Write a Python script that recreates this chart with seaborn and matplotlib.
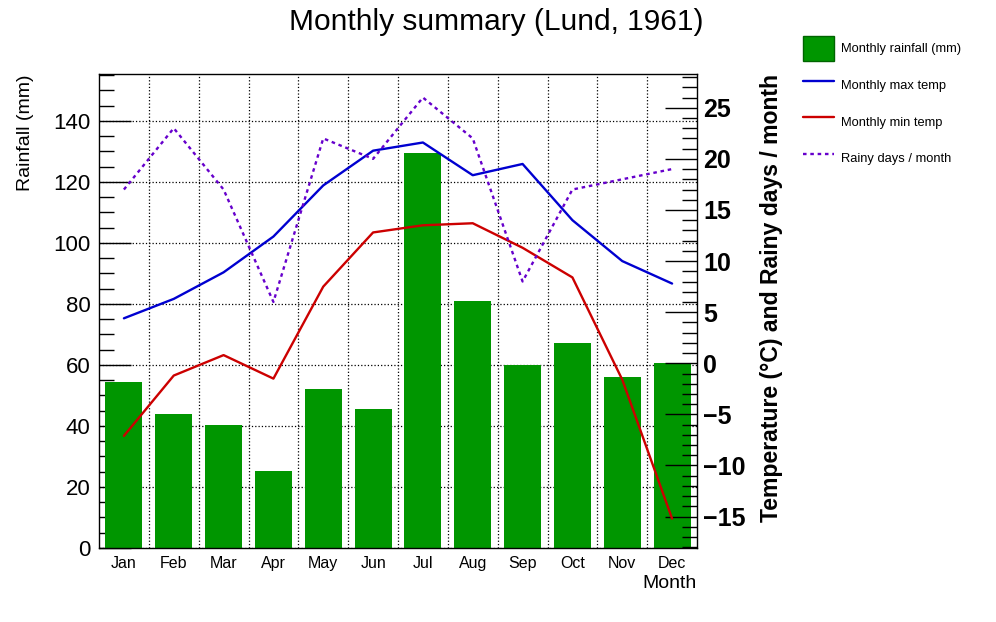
import numpy as np
import pandas as pd
import matplotlib
matplotlib.use('Agg')
import matplotlib.pyplot as plt
import seaborn as sns
from matplotlib.patches import Patch
from matplotlib.lines import Line2D
from matplotlib.ticker import MultipleLocator, FixedLocator

# Lund 1961 monthly data
months = ['Jan', 'Feb', 'Mar', 'Apr', 'May', 'Jun',
          'Jul', 'Aug', 'Sep', 'Oct', 'Nov', 'Dec']
rainfall = [54.4, 43.9, 40.3, 25.2, 52.1, 45.6, 129.4, 81.0, 60.0, 67.2, 56.1, 60.7]
max_temp = [4.4, 6.3, 8.9, 12.4, 17.4, 20.8, 21.6, 18.4, 19.5, 14.0, 10.0, 7.8]
min_temp = [-7.1, -1.2, 0.8, -1.5, 7.5, 12.8, 13.5, 13.7, 11.3, 8.4, -1.6, -15.2]
rainy_days = [17, 23, 17, 6, 22, 20, 26, 22, 8, 17, 18, 19]

GREEN = '#009600'
BLUE = '#0000d0'
RED = '#cc0000'
VIOLET = '#6600cc'

sns.set_style('white')
plt.rcParams['font.family'] = ['Liberation Sans', 'DejaVu Sans']
plt.rcParams['text.color'] = 'black'
plt.rcParams['axes.labelcolor'] = 'black'
plt.rcParams['xtick.color'] = 'black'
plt.rcParams['ytick.color'] = 'black'

df = pd.DataFrame({'month': months, 'rainfall': rainfall, 'max_temp': max_temp,
                   'min_temp': min_temp, 'rainy_days': rainy_days})
df['pos'] = np.arange(len(df))

fig = plt.figure(figsize=(9.96, 6.22), dpi=100)
ax = fig.add_axes([0.0994, 0.119, 0.6004, 0.762])

# rainfall bars on the left axis
sns.barplot(data=df, x='pos', y='rainfall', color=GREEN, saturation=1,
            width=0.74, linewidth=0, ax=ax, zorder=2)
ax.set_xlim(-0.5, 11.5)
ax.set_ylim(0, 155.4)

ax.xaxis.set_major_locator(FixedLocator(df['pos']))
ax.set_xticklabels(months, fontsize=11.5)
ax.xaxis.set_minor_locator(FixedLocator(df['pos'][:-1] + 0.5))
ax.tick_params(axis='x', which='major', length=0, pad=6)
ax.tick_params(axis='x', which='minor', direction='in', length=10, width=1)

ax.yaxis.set_major_locator(MultipleLocator(20))
ax.yaxis.set_minor_locator(MultipleLocator(5))
ax.tick_params(axis='y', which='major', direction='in', length=23, width=1,
               labelsize=16, pad=6, left=True, right=False)
ax.tick_params(axis='y', which='minor', direction='in', length=11, width=1,
               left=True, right=False)

ax.grid(False)
ax.grid(True, axis='y', which='major', linestyle=':', color='black', linewidth=0.9)
ax.grid(True, axis='x', which='minor', linestyle=':', color='black', linewidth=0.9)
ax.set_axisbelow(True)

ax.set_ylabel('Rainfall (mm)', fontsize=14, loc='top', labelpad=14)
ax.set_xlabel('Month', fontsize=14, loc='right', labelpad=2.5)

for s in ax.spines.values():
    s.set_color('black')
    s.set_linewidth(1)

# temperatures and rainy days on the right axis
ax2 = ax.twinx()
sns.lineplot(data=df, x='pos', y='max_temp', color=BLUE, linewidth=1.7, ax=ax2, sort=False)
sns.lineplot(data=df, x='pos', y='min_temp', color=RED, linewidth=1.7, ax=ax2, sort=False)
sns.lineplot(data=df, x='pos', y='rainy_days', color=VIOLET, linewidth=1.7,
             linestyle=(0, (1.5, 1.6)), ax=ax2, sort=False)
ax2.set_ylim(-18.07, 28.3)
ax2.set_xlim(-0.5, 11.5)
ax2.yaxis.set_major_locator(MultipleLocator(5))
ax2.yaxis.set_minor_locator(MultipleLocator(1))
ax2.tick_params(axis='y', which='major', direction='in', length=23, width=1,
                labelsize=18, pad=4.5)
ax2.tick_params(axis='y', which='minor', direction='in', length=11, width=1)
for lab in ax2.get_yticklabels():
    lab.set_fontweight('bold')
ax2.set_ylabel('Temperature (°C) and Rainy days / month', fontsize=16.6,
               fontweight='bold', loc='top', labelpad=10)
ax2.set_xlabel('')
ax2.grid(False)
for s in ax2.spines.values():
    s.set_visible(False)

fig.suptitle('Monthly summary (Lund, 1961)', fontsize=21.5, x=0.498, y=0.965, va='center')

handles = [
    Patch(facecolor=GREEN, edgecolor='#006400', linewidth=1),
    Line2D([], [], color=BLUE, linewidth=1.7),
    Line2D([], [], color=RED, linewidth=1.7),
    Line2D([], [], color=VIOLET, linewidth=1.7, linestyle=(0, (1.5, 1.6))),
]
labels = ['Monthly rainfall (mm)', 'Monthly max temp', 'Monthly min temp', 'Rainy days / month']
fig.legend(handles, labels, loc='upper left', bbox_to_anchor=(803 / 996, 1 - 36 / 622),
           frameon=False, fontsize=9.3, borderpad=0, borderaxespad=0,
           handlelength=2.4, handleheight=2.6, handletextpad=0.55, labelspacing=0.9)

fig.savefig('out.png', dpi=100)
